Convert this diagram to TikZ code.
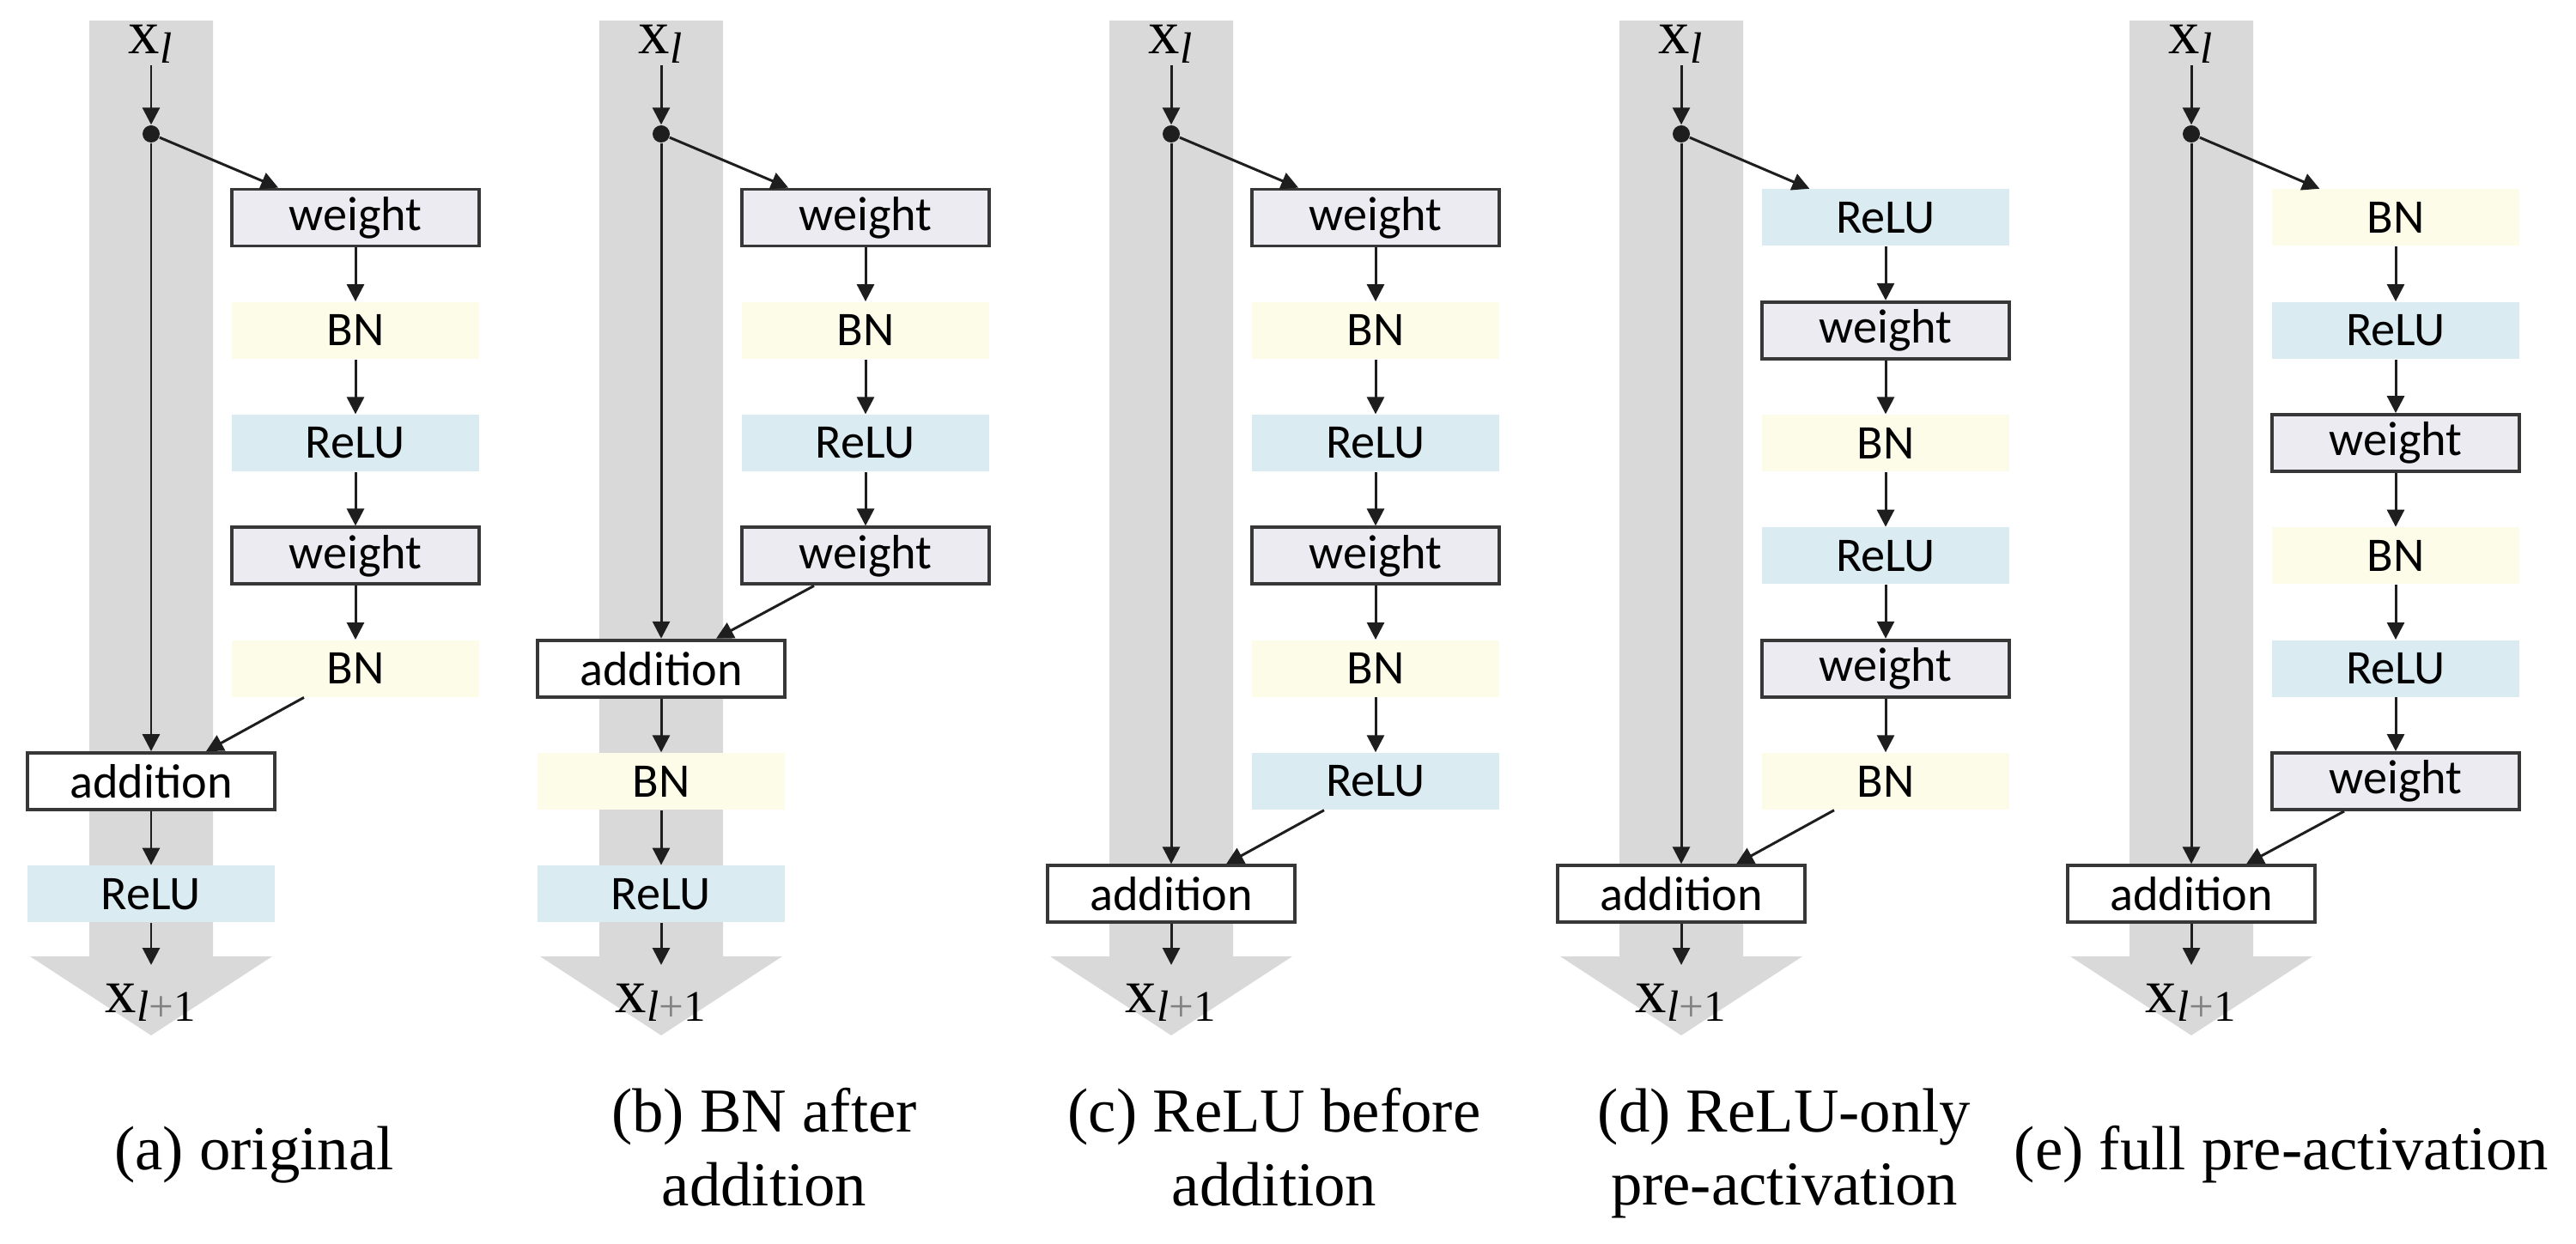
\documentclass[tikz,border=0pt]{standalone}
\usepackage{fontspec}
\setmainfont{Liberation Serif}
\newfontfamily\carlito{Carlito}
\usetikzlibrary{arrows.meta}
\definecolor{bandgray}{RGB}{217,217,217}
\definecolor{wfill}{RGB}{237,235,242}
\definecolor{bnfill}{RGB}{252,252,232}
\definecolor{relufill}{RGB}{218,235,242}
\definecolor{ink}{RGB}{30,30,30}
\definecolor{rim}{RGB}{55,55,55}

\begin{document}
\begin{tikzpicture}[
  lbl/.style={font=\carlito\fontsize{16}{19}\selectfont,minimum width=2.88cm,minimum height=0.66cm,inner sep=0pt},
  wbox/.style={lbl,draw=rim,line width=1.1pt,fill=wfill},
  bnbox/.style={lbl,fill=bnfill},
  relubox/.style={lbl,fill=relufill},
  addbox/.style={lbl,draw=rim,line width=1.1pt,fill=white},
  conn/.style={draw=ink,line width=0.85pt,-{Triangle[length=0.2cm,width=0.2cm]}},
  band/.style={fill=bandgray},
  junc/.style={circle,fill=ink,inner sep=0pt,minimum size=0.2cm},
  xlab/.style={font=\fontsize{20.7}{24.4}\selectfont,inner sep=0.5pt},
  captext/.style={font=\fontsize{20.7}{24.4}\selectfont,align=center,inner sep=0pt}]
\useasboundingbox (0,0) rectangle (30,14.48);

\begin{scope}[xshift=1.76cm]
\fill [band] (-0.72,14.24) -- (0.72,14.24) -- (0.72,3.34) -- (1.41,3.34) -- (0,2.42) -- (-1.41,3.34) -- (-0.72,3.34) -- cycle;
\node [xlab,anchor=base] (xa) at (0,13.85) {x\textsubscript{\textit{l}}};
\node [junc] (da) at (0,12.92) {};
\node [wbox] (a1) at (2.38,11.945) {weight};
\node [bnbox] (a2) at (2.38,10.632) {BN};
\node [relubox] (a3) at (2.38,9.319) {ReLU};
\node [wbox] (a4) at (2.38,8.006) {weight};
\node [bnbox] (a5) at (2.38,6.693) {BN};
\node [addbox] (adda) at (0,5.380) {addition};
\node [relubox] (a6) at (0,4.067) {ReLU};
\coordinate (ea) at (0,3.24);
\node [xlab,anchor=base] (ya) at (0,2.69) {x\textsubscript{\textit{l}\textcolor{gray}{+}1}};
\draw [conn] (xa) -- (da);
\draw [conn] (da) -- (adda);
\draw [conn] (da) -- ([xshift=0.56cm]a1.north west);
\draw [conn] (a1) -- (a2);
\draw [conn] (a2) -- (a3);
\draw [conn] (a3) -- (a4);
\draw [conn] (a4) -- (a5);
\draw [conn] ([xshift=-0.6cm]a5.south) -- ([xshift=0.64cm]adda.north);
\draw [conn] (adda) -- (a6);
\draw [conn] (a6) -- (ea);
\node [captext,anchor=base] (capa) at (1.2,0.86) {(a) original};
\end{scope}

\begin{scope}[xshift=7.70cm]
\fill [band] (-0.72,14.24) -- (0.72,14.24) -- (0.72,3.34) -- (1.41,3.34) -- (0,2.42) -- (-1.41,3.34) -- (-0.72,3.34) -- cycle;
\node [xlab,anchor=base] (xb) at (0,13.85) {x\textsubscript{\textit{l}}};
\node [junc] (db) at (0,12.92) {};
\node [wbox] (b1) at (2.38,11.945) {weight};
\node [bnbox] (b2) at (2.38,10.632) {BN};
\node [relubox] (b3) at (2.38,9.319) {ReLU};
\node [wbox] (b4) at (2.38,8.006) {weight};
\node [addbox] (addb) at (0,6.693) {addition};
\node [bnbox] (b5) at (0,5.380) {BN};
\node [relubox] (b6) at (0,4.067) {ReLU};
\coordinate (eb) at (0,3.24);
\node [xlab,anchor=base] (yb) at (0,2.69) {x\textsubscript{\textit{l}\textcolor{gray}{+}1}};
\draw [conn] (xb) -- (db);
\draw [conn] (db) -- (addb);
\draw [conn] (db) -- ([xshift=0.56cm]b1.north west);
\draw [conn] (b1) -- (b2);
\draw [conn] (b2) -- (b3);
\draw [conn] (b3) -- (b4);
\draw [conn] ([xshift=-0.6cm]b4.south) -- ([xshift=0.64cm]addb.north);
\draw [conn] (addb) -- (b5);
\draw [conn] (b5) -- (b6);
\draw [conn] (b6) -- (eb);
\node [captext,anchor=north] (capb) at (1.2,1.81) {(b) BN after\\addition};
\end{scope}

\begin{scope}[xshift=13.64cm]
\fill [band] (-0.72,14.24) -- (0.72,14.24) -- (0.72,3.34) -- (1.41,3.34) -- (0,2.42) -- (-1.41,3.34) -- (-0.72,3.34) -- cycle;
\node [xlab,anchor=base] (xc) at (0,13.85) {x\textsubscript{\textit{l}}};
\node [junc] (dc) at (0,12.92) {};
\node [wbox] (c1) at (2.38,11.945) {weight};
\node [bnbox] (c2) at (2.38,10.632) {BN};
\node [relubox] (c3) at (2.38,9.319) {ReLU};
\node [wbox] (c4) at (2.38,8.006) {weight};
\node [bnbox] (c5) at (2.38,6.693) {BN};
\node [relubox] (c6) at (2.38,5.380) {ReLU};
\node [addbox] (addc) at (0,4.067) {addition};
\coordinate (ec) at (0,3.24);
\node [xlab,anchor=base] (yc) at (0,2.69) {x\textsubscript{\textit{l}\textcolor{gray}{+}1}};
\draw [conn] (xc) -- (dc);
\draw [conn] (dc) -- (addc);
\draw [conn] (dc) -- ([xshift=0.56cm]c1.north west);
\draw [conn] (c1) -- (c2);
\draw [conn] (c2) -- (c3);
\draw [conn] (c3) -- (c4);
\draw [conn] (c4) -- (c5);
\draw [conn] (c5) -- (c6);
\draw [conn] ([xshift=-0.6cm]c6.south) -- ([xshift=0.64cm]addc.north);
\draw [conn] (addc) -- (ec);
\node [captext,anchor=north] (capc) at (1.2,1.81) {(c) ReLU before\\addition};
\end{scope}

\begin{scope}[xshift=19.58cm]
\fill [band] (-0.72,14.24) -- (0.72,14.24) -- (0.72,3.34) -- (1.41,3.34) -- (0,2.42) -- (-1.41,3.34) -- (-0.72,3.34) -- cycle;
\node [xlab,anchor=base] (xd) at (0,13.85) {x\textsubscript{\textit{l}}};
\node [junc] (dd) at (0,12.92) {};
\node [relubox] (d1) at (2.38,11.945) {ReLU};
\node [wbox] (d2) at (2.38,10.632) {weight};
\node [bnbox] (d3) at (2.38,9.319) {BN};
\node [relubox] (d4) at (2.38,8.006) {ReLU};
\node [wbox] (d5) at (2.38,6.693) {weight};
\node [bnbox] (d6) at (2.38,5.380) {BN};
\node [addbox] (addd) at (0,4.067) {addition};
\coordinate (ed) at (0,3.24);
\node [xlab,anchor=base] (yd) at (0,2.69) {x\textsubscript{\textit{l}\textcolor{gray}{+}1}};
\draw [conn] (xd) -- (dd);
\draw [conn] (dd) -- (addd);
\draw [conn] (dd) -- ([xshift=0.56cm]d1.north west);
\draw [conn] (d1) -- (d2);
\draw [conn] (d2) -- (d3);
\draw [conn] (d3) -- (d4);
\draw [conn] (d4) -- (d5);
\draw [conn] (d5) -- (d6);
\draw [conn] ([xshift=-0.6cm]d6.south) -- ([xshift=0.64cm]addd.north);
\draw [conn] (addd) -- (ed);
\node [captext,anchor=north] (capd) at (1.2,1.81) {(d) ReLU-only\\pre-activation};
\end{scope}

\begin{scope}[xshift=25.52cm]
\fill [band] (-0.72,14.24) -- (0.72,14.24) -- (0.72,3.34) -- (1.41,3.34) -- (0,2.42) -- (-1.41,3.34) -- (-0.72,3.34) -- cycle;
\node [xlab,anchor=base] (xe) at (0,13.85) {x\textsubscript{\textit{l}}};
\node [junc] (de) at (0,12.92) {};
\node [bnbox] (e1) at (2.38,11.945) {BN};
\node [relubox] (e2) at (2.38,10.632) {ReLU};
\node [wbox] (e3) at (2.38,9.319) {weight};
\node [bnbox] (e4) at (2.38,8.006) {BN};
\node [relubox] (e5) at (2.38,6.693) {ReLU};
\node [wbox] (e6) at (2.38,5.380) {weight};
\node [addbox] (adde) at (0,4.067) {addition};
\coordinate (ee) at (0,3.24);
\node [xlab,anchor=base] (ye) at (0,2.69) {x\textsubscript{\textit{l}\textcolor{gray}{+}1}};
\draw [conn] (xe) -- (de);
\draw [conn] (de) -- (adde);
\draw [conn] (de) -- ([xshift=0.56cm]e1.north west);
\draw [conn] (e1) -- (e2);
\draw [conn] (e2) -- (e3);
\draw [conn] (e3) -- (e4);
\draw [conn] (e4) -- (e5);
\draw [conn] (e5) -- (e6);
\draw [conn] ([xshift=-0.6cm]e6.south) -- ([xshift=0.64cm]adde.north);
\draw [conn] (adde) -- (ee);
\node [captext,anchor=base] (cape) at (1.05,0.86) {(e) full pre-activation};
\end{scope}
\end{tikzpicture}
\end{document}
